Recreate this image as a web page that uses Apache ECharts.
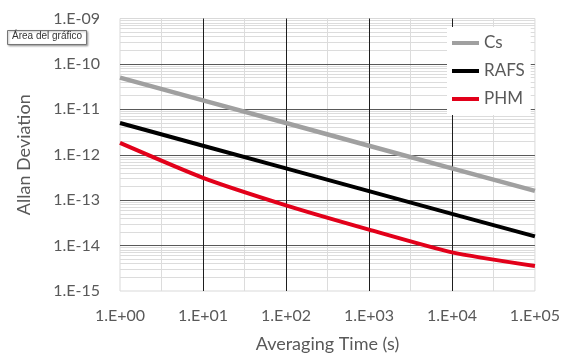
<!DOCTYPE html>
<html>
<head>
<meta charset="utf-8">
<script src="https://cdn.jsdelivr.net/npm/echarts@6/dist/echarts.min.js"></script>
<style>
html,body{margin:0;padding:0;background:#fff;}
#c{width:563px;height:358px;}
</style>
</head>
<body>
<div id="c"></div>
<script>
// Averaging time (s)
const tau = [1, 10, 100, 1000, 10000, 100000];
// Allan deviation values
const csVals   = [5.0e-11, 1.58e-11, 5.0e-12, 1.58e-12, 5.0e-13, 1.6e-13];
const rafsVals = [5.0e-12, 1.58e-12, 5.0e-13, 1.58e-13, 5.0e-14, 1.6e-14];
const phmVals  = [1.82e-12, 3.1e-13, 7.7e-14, 2.25e-14, 7.1e-15, 3.55e-15];
const seriesNames = ['Cs', 'RAFS', 'PHM'];
// Tick labels
const xTickLabels = ['1.E+00', '1.E+01', '1.E+02', '1.E+03', '1.E+04', '1.E+05'];
const yTickLabels = ['1.E-15', '1.E-14', '1.E-13', '1.E-12', '1.E-11', '1.E-10', '1.E-09'];

const FONT = 'Lato';
const TXT = '#595959';
const X_MIN = 1, X_MAX = 100000, Y_MIN = 1e-15, Y_MAX = 1e-9;

function pairs(xs, ys) { return xs.map((x, i) => [x, ys[i]]); }

// gridlines (Excel-style): minor y at 2..9 per decade, minor x at half-decades, then majors on top
const gridLines = [];
const minorStyle = { color: '#dcdcdc', width: 1, type: 'solid' };
for (let e = -15; e < -9; e++) {
  for (let k = 2; k <= 9; k++) {
    const v = k * Math.pow(10, e);
    gridLines.push([{ coord: [X_MIN, v], lineStyle: minorStyle }, { coord: [X_MAX, v] }]);
  }
}
for (let d = 0; d < 5; d++) {
  const v = Math.pow(10, d + 0.5);
  gridLines.push([{ coord: [v, Y_MIN], lineStyle: minorStyle }, { coord: [v, Y_MAX] }]);
}
for (let e = -14; e <= -10; e++) {
  const v = Math.pow(10, e);
  gridLines.push([{ coord: [X_MIN, v], lineStyle: { color: '#595959', width: 1, type: 'solid' } }, { coord: [X_MAX, v] }]);
}
for (let d = 1; d <= 4; d++) {
  const v = Math.pow(10, d);
  gridLines.push([{ coord: [v, Y_MIN], lineStyle: { color: '#1e1e1e', width: 1, type: 'solid' } }, { coord: [v, Y_MAX] }]);
}

const chart = echarts.init(document.getElementById('c'), null, { renderer: 'canvas' });
chart.setOption({
  animation: false,
  backgroundColor: '#fff',
  grid: { left: 120, right: 25, top: 18.5, bottom: 64.5, show: true, borderColor: '#d9d9d9', borderWidth: 1, backgroundColor: 'transparent' },
  legend: {
    orient: 'vertical', left: 447, top: 27,
    padding: [7, 6, 7, 5],
    backgroundColor: '#fff',
    itemWidth: 27, itemHeight: 4, itemGap: 10, icon: 'rect',
    textStyle: { fontFamily: FONT, fontSize: 17, color: TXT, lineHeight: 18 },
    data: seriesNames
  },
  xAxis: {
    type: 'log', logBase: 10, min: X_MIN, max: X_MAX, splitNumber: 5,
    axisLine: { show: false }, axisTick: { show: false },
    splitLine: { show: false },
    axisLabel: { fontFamily: FONT, fontSize: 16, color: TXT, margin: 17,
      formatter: v => xTickLabels[Math.round(Math.log10(v))] },
    name: 'Averaging Time (s)', nameLocation: 'middle', nameGap: 44,
    nameTextStyle: { fontFamily: FONT, fontSize: 18, color: TXT }
  },
  yAxis: {
    type: 'log', logBase: 10, min: Y_MIN, max: Y_MAX, splitNumber: 6,
    axisLine: { show: false }, axisTick: { show: false },
    splitLine: { show: false },
    axisLabel: { fontFamily: FONT, fontSize: 16, color: TXT, margin: 20,
      formatter: v => yTickLabels[Math.round(Math.log10(v)) + 15] },
    name: 'Allan Deviation', nameLocation: 'middle', nameGap: 87,
    nameTextStyle: { fontFamily: FONT, fontSize: 18, color: TXT }
  },
  series: [
    { name: 'Cs', type: 'line', data: pairs(tau, csVals), symbol: 'none', z: 3,
      lineStyle: { color: '#a0a0a0', width: 4.5 }, itemStyle: { color: '#a0a0a0' },
      markLine: { silent: true, z: 1, symbol: ['none', 'none'], label: { show: false },
        lineStyle: minorStyle, emphasis: { disabled: true },
        data: gridLines } },
    { name: 'RAFS', type: 'line', data: pairs(tau, rafsVals), symbol: 'none', z: 3,
      lineStyle: { color: '#000000', width: 4 }, itemStyle: { color: '#000000' } },
    { name: 'PHM', type: 'line', data: pairs(tau, phmVals), symbol: 'none', smooth: 0.2, z: 3,
      lineStyle: { color: '#e2001a', width: 4 }, itemStyle: { color: '#e2001a' } }
  ],
  graphic: [
    { type: 'rect', left: 7, top: 30, shape: { width: 79, height: 14 },
      style: { fill: '#fff', stroke: '#767676', lineWidth: 1, shadowBlur: 2, shadowOffsetX: 1, shadowOffsetY: 1, shadowColor: 'rgba(0,0,0,0.3)' }, z: 100 },
    { type: 'text', left: 12, top: 31.5,
      style: { text: 'Área del gráfico', font: '10px "Liberation Sans"', fill: '#333' }, z: 101 }
  ]
});
</script>
</body>
</html>
